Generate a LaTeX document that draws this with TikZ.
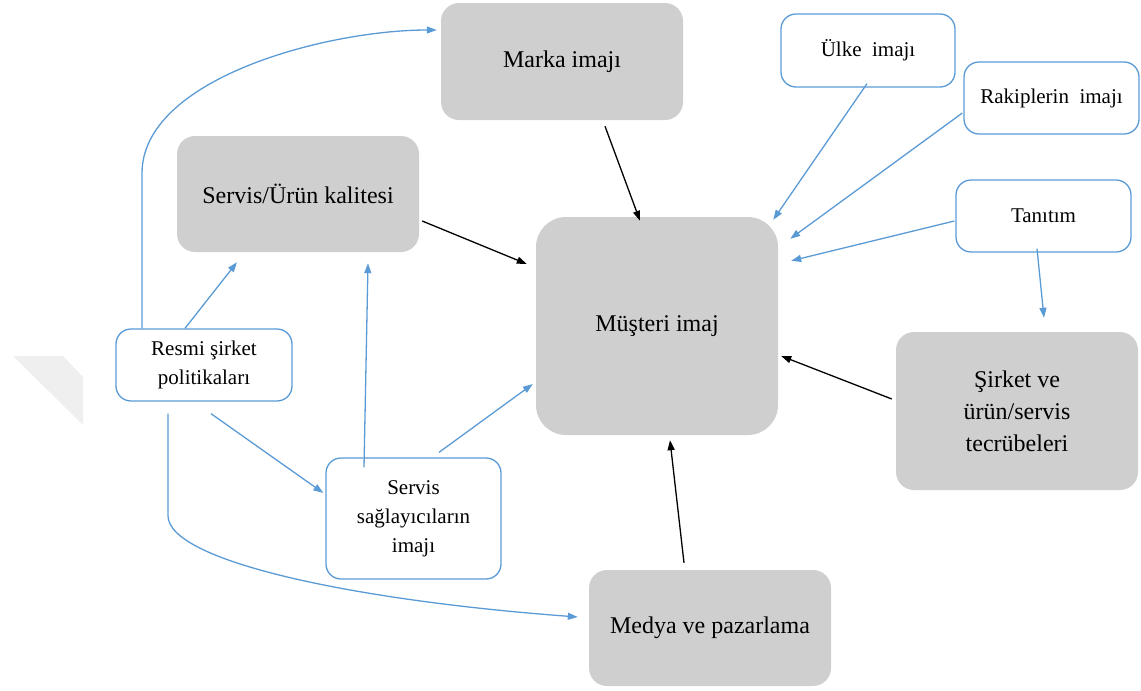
\documentclass[tikz,border=0pt]{standalone}
\usepackage{fontspec}
\setmainfont{Liberation Serif}
\usetikzlibrary{calc,arrows.meta}
\definecolor{boxgray}{HTML}{CFCFCF}
\definecolor{lineblue}{HTML}{5B9BD5}
\definecolor{wmgray}{HTML}{EFEFEF}
\tikzset{
  gbox/.style={fill=boxgray, draw=none, rounded corners=18pt, align=center,
    inner sep=0pt, font=\fontsize{24}{32}\selectfont},
  wbox/.style={fill=white, draw=lineblue, line width=1.3pt, rounded corners=15pt, align=center,
    inner sep=0pt, font=\fontsize{21}{29}\selectfont},
  barrow/.style={draw=black, line width=1.3pt, -{Triangle[length=10pt,width=7pt]}},
  larrow/.style={draw=lineblue, line width=1.3pt, -{Triangle[length=10pt,width=7pt]}},
}
\begin{document}
\begin{tikzpicture}[x=1pt,y=-1pt]
\useasboundingbox (0,0) rectangle (1141,691);
% faint watermark
\fill[wmgray] (13,356) -- (63,356) -- (83,377) -- (83,425) -- cycle;

% gray boxes
\node[gbox, minimum width=242pt, minimum height=117pt] (marka) at (562,61.5) {Marka imajı};
\node[gbox, minimum width=242pt, minimum height=116pt] (kalite) at (298,194) {Servis/Ürün kalitesi};
\node[gbox, minimum width=242pt, minimum height=218pt, rounded corners=30pt] (musteri) at (657,326) {Müşteri imaj};
\node[gbox, minimum width=242pt, minimum height=158pt] (sirket) at (1017,411) {Şirket ve\\ürün/servis\\tecrübeleri};
\node[gbox, minimum width=242pt, minimum height=116pt] (medya) at (710,628) {Medya ve pazarlama};

% white boxes
\node[wbox, minimum width=174pt, minimum height=73pt] (ulke) at (868,50.5) {Ülke\ \ imajı};
\node[wbox, minimum width=175pt, minimum height=72pt] (rakip) at (1051.5,98) {Rakiplerin\ \ imajı};
\node[wbox, minimum width=175pt, minimum height=72pt] (tanitim) at (1043.5,216) {Tanıtım};
\node[wbox, minimum width=176pt, minimum height=72pt] (resmi) at (204,365) {Resmi şirket\\politikaları};
\node[wbox, minimum width=175pt, minimum height=121pt] (saglayici) at (413.5,518.5) {Servis\\sağlayıcıların\\imajı};

% black arrows
\draw[barrow] ($(marka.south)+(43,6)$) -- ($(musteri.north)+(-17,4)$);
\draw[barrow] ($(kalite.east)+(3,27)$) -- ($(musteri.west)+(-9,-62)$);
\draw[barrow] ($(sirket.west)+(-4,-12)$) -- ($(musteri.east)+(3,30)$);
\draw[barrow] ($(medya.north)+(-26,-7)$) -- ($(musteri.south)+(13,5)$);

% blue arrows from the right
\draw[larrow] ($(ulke.south)+(-1,-4)$) -- ($(musteri.north east)+(-5,3)$);
\draw[larrow] ($(rakip.west)+(-1,15)$) -- ($(musteri.north east)+(12,22)$);
\draw[larrow] ($(tanitim.west)+(-1,5)$) -- ($(musteri.north east)+(13,44)$);
\draw[larrow] ($(tanitim.south)+(-6.5,-4)$) -- ($(sirket.north)+(27,-14)$);

% blue arrows from the left
\draw[larrow] ($(resmi.north)+(-19,0)$) -- ($(kalite.south)+(-61,10)$);
\draw[larrow] ($(resmi.south)+(7,12)$) -- ($(saglayici.west)+(-2,-25.5)$);
\draw[larrow] ($(saglayici.north)+(-49.5,10)$) -- ($(kalite.south)+(70,11)$);
\draw[larrow] ($(saglayici.north)+(25.5,-5)$) -- ($(musteri.west)+(-3,58)$);
\draw[larrow] ($(resmi.north)+(-62,0)$) -- ++(0,-155)
   .. controls +(0,-95) and +(-110,0) .. ($(marka.west)+(-4,-31.5)$);
\draw[larrow] ($(resmi.south)+(-36,12)$) -- ++(0,102)
   .. controls +(0,45) and +(-228,-17) .. ($(medya.west)+(-11,-11)$);
\end{tikzpicture}
\end{document}
